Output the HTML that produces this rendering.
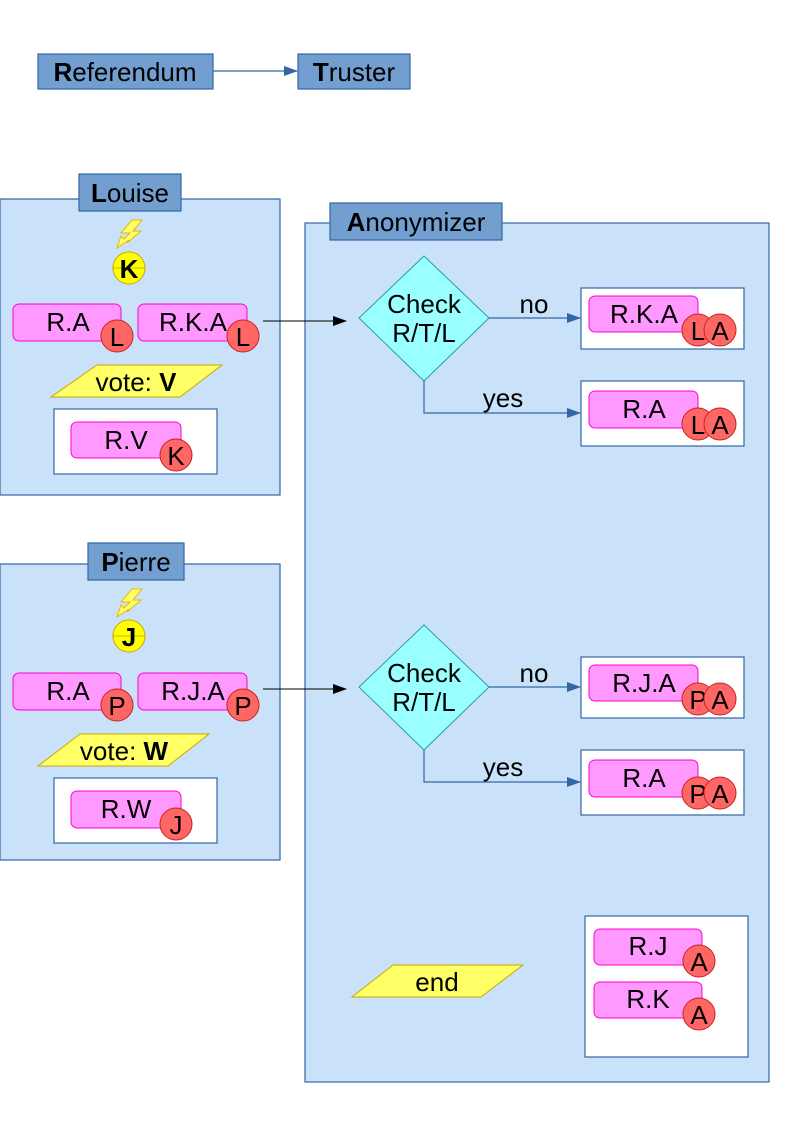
<!DOCTYPE html>
<html><head><meta charset="utf-8"><style>
html,body{margin:0;padding:0;background:#fff}
svg{display:block}
text{font-family:"Liberation Sans",sans-serif;font-size:26px;fill:#000}
.pnl{fill:#c9e2fa;stroke:#3465a4;stroke-width:1.2}
.ttl{fill:#729fcf;stroke:#3465a4;stroke-width:1.2}
.wb{fill:#fff;stroke:#3465a4;stroke-width:1.2}
.pk{fill:#ff99ff;stroke:#ff00cc;stroke-width:1}
.rc{fill:#ff6666;stroke:#c9211e;stroke-width:1}
.yl{fill:#ffff66;stroke:#c9a700;stroke-width:1}
.dm{fill:#99ffff;stroke:#2a9da6;stroke-width:1}
.bl{stroke:#3465a4;stroke-width:1.2;fill:none}
.lt{fill:#ffff66;stroke:#e6b800;stroke-width:1}
</style></head><body>
<svg width="794" height="1123" viewBox="0 0 794 1123" xmlns="http://www.w3.org/2000/svg">
<defs>
<marker id="ab" markerWidth="14" markerHeight="10" refX="13" refY="5" orient="auto" markerUnits="userSpaceOnUse"><path d="M0,0 L14,5 L0,10 Z" fill="#3465a4"/></marker>
<marker id="ak" markerWidth="14" markerHeight="10" refX="13" refY="5" orient="auto" markerUnits="userSpaceOnUse"><path d="M0,0 L14,5 L0,10 Z" fill="#000"/></marker>
</defs>

<rect class="ttl" x="38" y="54" width="175" height="35"/>
<text x="125" y="81" text-anchor="middle"><tspan font-weight="bold">R</tspan>eferendum</text>
<rect class="ttl" x="298" y="54" width="112" height="35"/>
<text x="354" y="81" text-anchor="middle"><tspan font-weight="bold">T</tspan>ruster</text>
<line class="bl" x1="213" y1="71" x2="297" y2="71" marker-end="url(#ab)"/>

<rect class="pnl" x="305" y="223" width="464" height="859"/>
<rect class="ttl" x="330" y="203" width="172" height="37"/>
<text x="416" y="231" text-anchor="middle"><tspan font-weight="bold">A</tspan>nonymizer</text>

<rect class="pnl" x="0" y="199" width="280" height="296"/>
<rect class="ttl" x="79" y="174" width="102" height="37"/>
<text x="130" y="202" text-anchor="middle"><tspan font-weight="bold">L</tspan>ouise</text>
<rect class="pnl" x="0" y="564" width="280" height="296"/>
<rect class="ttl" x="88" y="543" width="96" height="37"/>
<text x="136" y="571" text-anchor="middle"><tspan font-weight="bold">P</tspan>ierre</text>

<g>
<path d="M132,220 L142,220 L133,231 L141,231 L127,243 L129,240 L117,248 L121,236 L124,239 L130,233 L121,233 Z" class="lt"/>
<circle cx="129" cy="268" r="16" fill="#ffff00" stroke="#c9a700"/>
<line x1="113" y1="268" x2="145" y2="268" stroke="#c9a700" stroke-width="0.8"/>
<text x="129" y="278" text-anchor="middle" font-weight="bold">K</text>
<rect class="pk" x="13" y="304" width="108" height="37" rx="6"/>
<text x="68" y="331" text-anchor="middle">R.A</text>
<circle class="rc" cx="117" cy="336" r="16"/><text x="117" y="346" text-anchor="middle">L</text>
<rect class="pk" x="138" y="304" width="109" height="37" rx="6"/>
<text x="193" y="331" text-anchor="middle">R.K.A</text>
<circle class="rc" cx="243" cy="336" r="16"/><text x="243" y="346" text-anchor="middle">L</text>
<polygon class="yl" points="97,365 222,365 180,397 51,397"/>
<text x="136" y="391" text-anchor="middle">vote: <tspan font-weight="bold">V</tspan></text>
<rect class="wb" x="54" y="409" width="163" height="65"/>
<rect class="pk" x="71" y="422" width="110" height="36" rx="6"/>
<text x="126" y="449" text-anchor="middle">R.V</text>
<circle class="rc" cx="176" cy="455" r="16"/><text x="176" y="465" text-anchor="middle">K</text>
</g>
<g>
<path d="M132,589 L142,589 L133,600 L141,600 L127,612 L129,609 L117,617 L121,605 L124,608 L130,602 L121,602 Z" class="lt"/>
<circle cx="129" cy="636" r="16" fill="#ffff00" stroke="#c9a700"/>
<line x1="113" y1="636" x2="145" y2="636" stroke="#c9a700" stroke-width="0.8"/>
<text x="129" y="646" text-anchor="middle" font-weight="bold">J</text>
<rect class="pk" x="13" y="673" width="108" height="37" rx="6"/>
<text x="68" y="700" text-anchor="middle">R.A</text>
<circle class="rc" cx="117" cy="705" r="16"/><text x="117" y="715" text-anchor="middle">P</text>
<rect class="pk" x="138" y="673" width="109" height="37" rx="6"/>
<text x="193" y="700" text-anchor="middle">R.J.A</text>
<circle class="rc" cx="243" cy="705" r="16"/><text x="243" y="715" text-anchor="middle">P</text>
<polygon class="yl" points="80,734 209,734 168,766 38,766"/>
<text x="124" y="760" text-anchor="middle">vote: <tspan font-weight="bold">W</tspan></text>
<rect class="wb" x="54" y="778" width="163" height="65"/>
<rect class="pk" x="71" y="791" width="110" height="37" rx="6"/>
<text x="126" y="818" text-anchor="middle">R.W</text>
<circle class="rc" cx="176" cy="824" r="16"/><text x="176" y="834" text-anchor="middle">J</text>
</g>

<line x1="263" y1="321" x2="346" y2="321" stroke="#000" stroke-width="1" marker-end="url(#ak)"/>
<polygon class="dm" points="424,256 489,318 424,381 359,318"/>
<text x="424" y="313" text-anchor="middle">Check</text>
<text x="424" y="342" text-anchor="middle">R/T/L</text>
<line class="bl" x1="489" y1="318" x2="580" y2="318" marker-end="url(#ab)"/>
<text x="534" y="313" text-anchor="middle">no</text>
<polyline class="bl" points="424,381 424,413 580,413" marker-end="url(#ab)"/>
<text x="503" y="407" text-anchor="middle">yes</text>
<rect class="wb" x="581" y="288" width="163" height="61"/>
<rect class="pk" x="589" y="296" width="109" height="36" rx="6"/>
<text x="644" y="323" text-anchor="middle">R.K.A</text>
<circle class="rc" cx="698" cy="330" r="16"/><text x="698" y="340" text-anchor="middle">L</text>
<circle class="rc" cx="720" cy="330" r="16"/><text x="720" y="340" text-anchor="middle">A</text>
<rect class="wb" x="581" y="381" width="163" height="65"/>
<rect class="pk" x="589" y="391" width="109" height="37" rx="6"/>
<text x="644" y="418" text-anchor="middle">R.A</text>
<circle class="rc" cx="698" cy="424" r="16"/><text x="698" y="434" text-anchor="middle">L</text>
<circle class="rc" cx="720" cy="424" r="16"/><text x="720" y="434" text-anchor="middle">A</text>

<line x1="263" y1="689" x2="346" y2="689" stroke="#000" stroke-width="1" marker-end="url(#ak)"/>
<polygon class="dm" points="424,625 489,687 424,750 359,687"/>
<text x="424" y="682" text-anchor="middle">Check</text>
<text x="424" y="711" text-anchor="middle">R/T/L</text>
<line class="bl" x1="489" y1="687" x2="580" y2="687" marker-end="url(#ab)"/>
<text x="534" y="682" text-anchor="middle">no</text>
<polyline class="bl" points="424,750 424,782 580,782" marker-end="url(#ab)"/>
<text x="503" y="776" text-anchor="middle">yes</text>
<rect class="wb" x="581" y="657" width="163" height="61"/>
<rect class="pk" x="589" y="665" width="109" height="36" rx="6"/>
<text x="644" y="692" text-anchor="middle">R.J.A</text>
<circle class="rc" cx="698" cy="699" r="16"/><text x="698" y="709" text-anchor="middle">P</text>
<circle class="rc" cx="720" cy="699" r="16"/><text x="720" y="709" text-anchor="middle">A</text>
<rect class="wb" x="581" y="750" width="163" height="65"/>
<rect class="pk" x="589" y="760" width="109" height="37" rx="6"/>
<text x="644" y="787" text-anchor="middle">R.A</text>
<circle class="rc" cx="698" cy="793" r="16"/><text x="698" y="803" text-anchor="middle">P</text>
<circle class="rc" cx="720" cy="793" r="16"/><text x="720" y="803" text-anchor="middle">A</text>

<polygon class="yl" points="393,965 523,965 481,997 352,997"/>
<text x="437" y="991" text-anchor="middle">end</text>
<rect class="wb" x="585" y="916" width="163" height="141"/>
<rect class="pk" x="594" y="929" width="108" height="36" rx="6"/>
<text x="648" y="955" text-anchor="middle">R.J</text>
<circle class="rc" cx="699" cy="961" r="16"/><text x="699" y="971" text-anchor="middle">A</text>
<rect class="pk" x="594" y="982" width="108" height="36" rx="6"/>
<text x="648" y="1008" text-anchor="middle">R.K</text>
<circle class="rc" cx="699" cy="1014" r="16"/><text x="699" y="1024" text-anchor="middle">A</text>
</svg>
</body></html>
